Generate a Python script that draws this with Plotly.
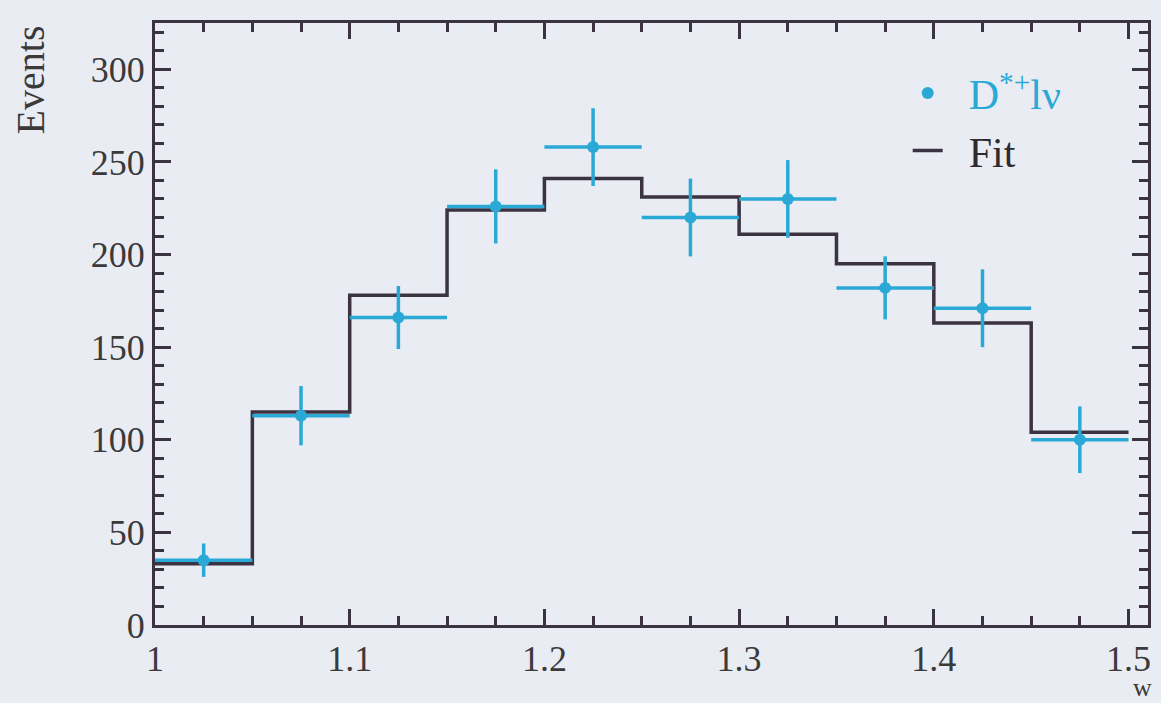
import plotly.graph_objects as go

# Data
bin_edges = [1.0, 1.05, 1.1, 1.15, 1.2, 1.25, 1.3, 1.35, 1.4, 1.45, 1.5]
bin_centers = [1.025, 1.075, 1.125, 1.175, 1.225, 1.275, 1.325, 1.375, 1.425, 1.475]
data_events = [35, 113, 166, 226, 258, 220, 230, 182, 171, 100]
data_errors = [9, 16, 17, 20, 21, 21, 21, 17, 21, 18]
fit_events = [33, 115, 178, 224, 241, 231, 211, 195, 163, 104]
half_width = [0.025] * 10

x_ticks = [1.0, 1.1, 1.2, 1.3, 1.4, 1.5]
x_tick_labels = ["1", "1.1", "1.2", "1.3", "1.4", "1.5"]
y_ticks = [0, 50, 100, 150, 200, 250, 300]

CYAN = "#2aa9d6"
DARK = "#3b3342"
BG = "#e9ecf3"
FONT = "Liberation Serif"
TXT = "#3a3a3a"
PAD = "\u00a0\u00a0"

fig = go.Figure()

# Fit as step histogram
fig.add_trace(go.Scatter(
    x=bin_edges,
    y=fit_events + [fit_events[-1]],
    mode="lines",
    line=dict(shape="hv", color=DARK, width=3.5),
    name=PAD + "Fit",
))

# Data points with error bars
fig.add_trace(go.Scatter(
    x=bin_centers,
    y=data_events,
    mode="markers",
    marker=dict(color=CYAN, size=12, symbol="circle"),
    error_y=dict(type="data", array=data_errors, color=CYAN, thickness=3.5, width=0),
    error_x=dict(type="data", array=half_width, color=CYAN, thickness=3.5, width=0),
    name=PAD + '<span style="color:%s">D<sup>*+</sup>lν</span>' % CYAN,
))

axis_common = dict(
    showline=True, linecolor=DARK, linewidth=3, mirror="ticks",
    ticks="inside", tickcolor=DARK, tickwidth=2.5,
    showgrid=False, zeroline=False,
    tickfont=dict(family=FONT, size=36, color=TXT),
)

fig.update_xaxes(
    range=[1.0, 1.51],
    tickvals=x_ticks, ticktext=x_tick_labels, ticklen=16,
    minor=dict(dtick=0.025, tick0=1.0, ticks="inside", ticklen=9, tickcolor=DARK, tickwidth=2.5),
    **axis_common,
)
fig.update_yaxes(
    range=[0, 325],
    tickvals=y_ticks, ticklen=16,
    minor=dict(dtick=10, tick0=0, ticks="inside", ticklen=9, tickcolor=DARK, tickwidth=2.5),
    **axis_common,
)

fig.update_layout(
    width=1161, height=703,
    margin=dict(l=155, r=10, t=23, b=78),
    paper_bgcolor=BG, plot_bgcolor=BG,
    font=dict(family=FONT, color=TXT),
    legend=dict(
        x=0.758, y=0.94, xanchor="left", yanchor="top",
        bgcolor="rgba(0,0,0,0)", traceorder="reversed",
        font=dict(family=FONT, size=42, color="#2e2a30"),
        itemwidth=30,
    ),
    showlegend=True,
    annotations=[
        dict(text="w", xref="paper", yref="paper", x=0.994, y=-0.103,
             xanchor="center", yanchor="middle", showarrow=False,
             font=dict(family=FONT, size=26, color=TXT)),
        dict(text="Events", xref="paper", yref="paper", x=-0.125, y=1.0,
             xanchor="center", yanchor="top", textangle=-90, showarrow=False,
             font=dict(family=FONT, size=40, color=TXT)),
    ],
)

fig.write_html("out.html")
